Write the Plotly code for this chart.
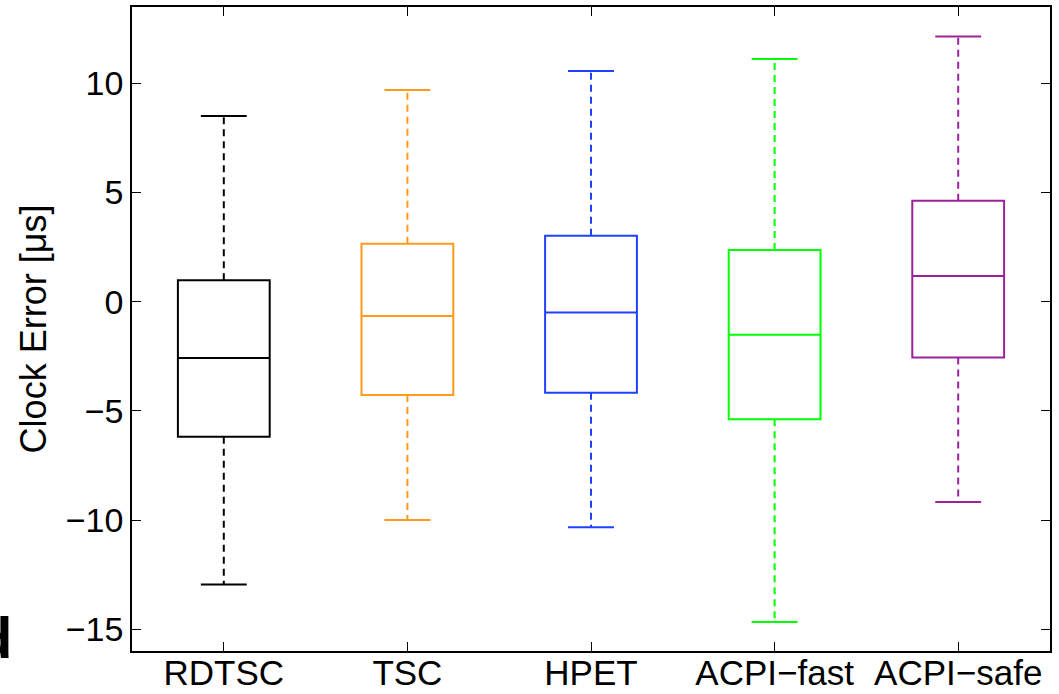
import plotly.graph_objects as go

categories = ["RDTSC", "TSC", "HPET", "ACPI−fast", "ACPI−safe"]
lower_whisker = [-12.95, -10.0, -10.33, -14.67, -9.18]
q1 = [-6.19, -4.27, -4.17, -5.38, -2.55]
median = [-2.58, -0.65, -0.49, -1.51, 1.18]
q3 = [0.98, 2.66, 3.02, 2.37, 4.63]
upper_whisker = [8.51, 9.70, 10.57, 11.12, 12.15]
colors = ["#000000", "#FF9A1A", "#1F40FF", "#00FF00", "#9B2399"]

yticks = [-15, -10, -5, 0, 5, 10]

FONT = "Liberation Sans, Arial, Helvetica, sans-serif"
BOX_W = 0.5
CAP_HALF = 0.125

fig = go.Figure()
positions = list(range(1, len(categories) + 1))

for i, pos in enumerate(positions):
    c = colors[i]
    # dashed whiskers
    fig.add_trace(go.Scatter(
        x=[pos, pos, None, pos, pos],
        y=[q3[i], upper_whisker[i], None, q1[i], lower_whisker[i]],
        mode="lines", line=dict(color=c, width=2, dash="7px,5px"),
        showlegend=False, hoverinfo="skip"))
    # whisker caps
    fig.add_trace(go.Scatter(
        x=[pos - CAP_HALF, pos + CAP_HALF, None, pos - CAP_HALF, pos + CAP_HALF],
        y=[upper_whisker[i], upper_whisker[i], None, lower_whisker[i], lower_whisker[i]],
        mode="lines", line=dict(color=c, width=2),
        showlegend=False, hoverinfo="skip"))
    # box with median
    fig.add_trace(go.Box(
        x=[pos], q1=[q1[i]], median=[median[i]], q3=[q3[i]],
        lowerfence=[q1[i]], upperfence=[q3[i]],
        width=BOX_W, whiskerwidth=0,
        fillcolor="rgba(0,0,0,0)", line=dict(color=c, width=2),
        boxpoints=False, showlegend=False, name=categories[i]))

fig.update_layout(
    width=1059, height=694,
    margin=dict(l=132, r=9, t=7, b=43),
    paper_bgcolor="white", plot_bgcolor="white",
    font=dict(family=FONT, size=34, color="black"),
    showlegend=False,
)
fig.update_xaxes(
    range=[0.5, 5.5], tickmode="array", tickvals=positions, ticktext=categories,
    ticks="inside", ticklen=9, tickwidth=1, tickcolor="black",
    showline=True, linecolor="black", linewidth=1.5, mirror="ticks",
    showgrid=False, zeroline=False, tickfont=dict(size=35),
    automargin=False, ticklabelstandoff=-10,
)
fig.update_yaxes(
    range=[-16.0, 13.5], tickmode="array", tickvals=yticks,
    ticktext=[str(v).replace("-", "−") for v in yticks],
    ticks="inside", ticklen=9, tickwidth=1, tickcolor="black",
    showline=True, linecolor="black", linewidth=1.5, mirror="ticks",
    showgrid=False, zeroline=False, tickfont=dict(size=34),
    automargin=False,
    title=dict(text="Clock Error [μs]", font=dict(size=36), standoff=8),
)
fig.add_annotation(
    text="<b>d</b>", xref="paper", yref="paper",
    x=(14 - 132) / 918, y=(694 - 43 - 672) / 644,
    xanchor="right", yanchor="bottom", showarrow=False,
    font=dict(family=FONT, size=58, color="black"))

fig.write_html("out.html")
